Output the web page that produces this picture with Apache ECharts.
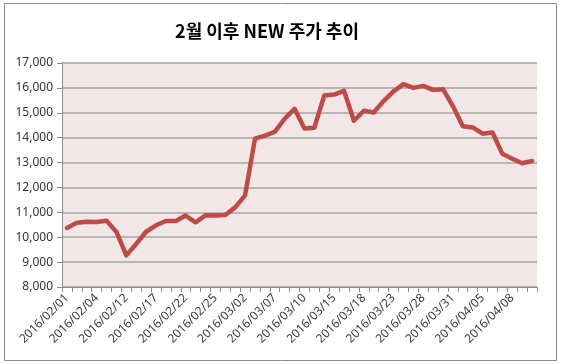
<!DOCTYPE html>
<html><head><meta charset="utf-8">
<script src="https://cdn.jsdelivr.net/npm/echarts@6/dist/echarts.min.js"></script>
<style>html,body{margin:0;padding:0;background:#fff}#c{width:561px;height:364px}</style>
</head><body><div id="c"></div>
<script>
const titleText = '2월 이후 NEW 주가 추이';
const dates = ['2016/02/01','2016/02/02','2016/02/03','2016/02/04','2016/02/05','2016/02/11','2016/02/12','2016/02/15','2016/02/16','2016/02/17','2016/02/18','2016/02/19','2016/02/22','2016/02/23','2016/02/24','2016/02/25','2016/02/26','2016/02/29','2016/03/02','2016/03/03','2016/03/04','2016/03/07','2016/03/08','2016/03/09','2016/03/10','2016/03/11','2016/03/14','2016/03/15','2016/03/16','2016/03/17','2016/03/18','2016/03/21','2016/03/22','2016/03/23','2016/03/24','2016/03/25','2016/03/28','2016/03/29','2016/03/30','2016/03/31','2016/04/01','2016/04/04','2016/04/05','2016/04/06','2016/04/07','2016/04/08','2016/04/11','2016/04/12'];
const prices = [10370,10580,10620,10610,10660,10210,9270,9730,10220,10480,10650,10650,10870,10600,10880,10870,10890,11200,11680,13960,14080,14230,14760,15160,14370,14400,15690,15730,15880,14680,15080,15010,15470,15860,16150,16000,16080,15920,15950,15270,14460,14410,14160,14210,13350,13150,12970,13060];
const yMin = 8000, yMax = 17000, yStep = 1000;

const chart = echarts.init(document.getElementById('c'));
chart.setOption({
  animation: false,
  backgroundColor: '#ffffff',
  graphic: [{type:'rect', shape:{x:4.5,y:3.5,width:552,height:357}, style:{fill:'none', stroke:'#8c8c8c', lineWidth:1}, silent:true}],
  title: {text: titleText, left: 262, top: 17, textAlign: 'center',
    textStyle:{fontFamily:'Noto Sans CJK KR', fontWeight:'bold', fontSize:18, color:'#000'}},
  grid: {left: 62, top: 63, width: 475, height: 224, show: true, backgroundColor: '#f2e6e6', borderWidth: 0},
  xAxis: {type:'category', data: dates, boundaryGap: true,
    axisLine:{show:true, lineStyle:{color:'#8c8c8c', width:1}},
    axisTick:{show:true, interval:0, length:5, lineStyle:{color:'#8c8c8c'}},
    axisLabel:{interval:2, rotate:45, fontFamily:'Noto Sans', fontSize:12, color:'#3a3a3a', margin:9}},
  yAxis: {type:'value', min: yMin, max: yMax, interval: yStep,
    axisLine:{show:true, lineStyle:{color:'#8c8c8c'}},
    axisTick:{show:true, length:5, lineStyle:{color:'#8c8c8c'}},
    splitLine:{show:true, lineStyle:{color:'#a6a6a6', width:1.5}},
    axisLabel:{fontFamily:'Noto Sans', fontSize:12, color:'#333', margin:9,
      formatter: v => v.toLocaleString('en-US')}},
  series: [{type:'line', data: prices, showSymbol:false, smooth:false,
    lineStyle:{color:'#be4b48', width:4.5, join:'round', cap:'round'}}]
});
</script></body></html>
